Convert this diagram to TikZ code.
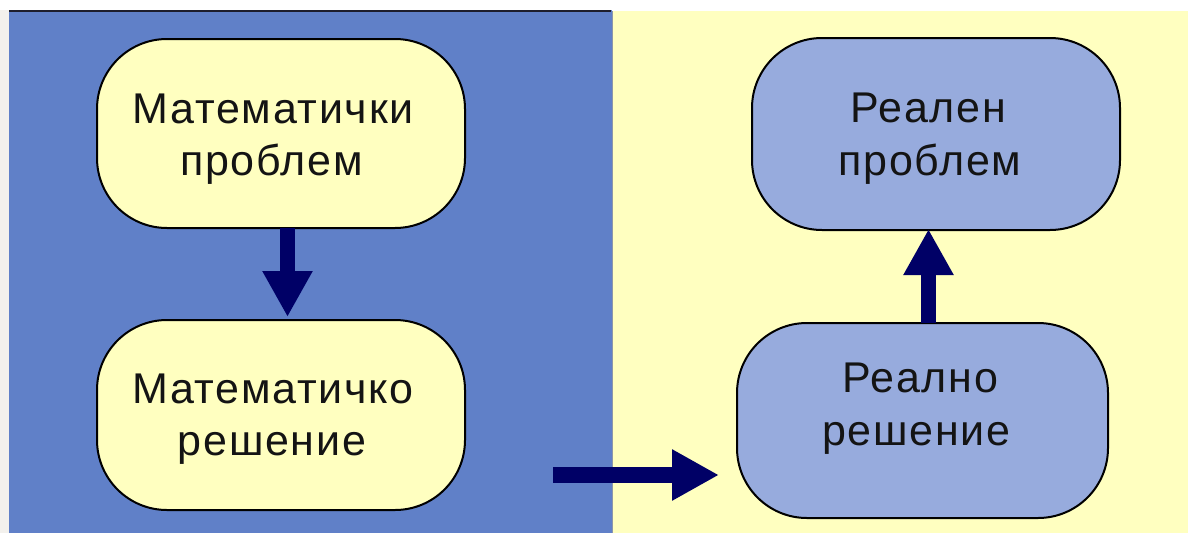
\documentclass[tikz,border=0pt]{standalone}
\usepackage{fontspec}
\setmainfont{Liberation Sans}[LetterSpace=4]
\usetikzlibrary{arrows.meta,calc}
\definecolor{panelblue}{RGB}{96,128,200}
\definecolor{panelyellow}{RGB}{255,255,192}
\definecolor{boxyellow}{RGB}{255,255,192}
\definecolor{boxblue}{RGB}{151,171,221}
\definecolor{arrownavy}{RGB}{0,0,102}
\definecolor{edgegray}{RGB}{243,241,237}
\tikzset{
  stepbox/.style={draw=black, line width=2pt, rounded corners=70pt, inner sep=0pt},
  lbl/.style={font=\fontsize{43}{52}\selectfont, inner sep=0pt, anchor=base, text={rgb,255:red,20;green,20;blue,20}},
  bigarrow/.style={draw=arrownavy, line width=15pt, line cap=butt,
     -{Triangle[width=47pt,length=46pt]}, arrownavy},
}
\begin{document}
\begin{tikzpicture}[x=1pt,y=-1pt]
\useasboundingbox (0,0) rectangle (1188,533);
% backgrounds
\fill[white] (0,0) rectangle (1188,533);
\fill[edgegray] (0,10) rectangle (9,533);
\fill[panelblue] (9,10) rectangle (612,533);
\fill[panelyellow] (612,11) rectangle (1188,533);
\draw[line width=2pt, color={rgb,255:red,30;green,30;blue,45}] (9,10.5) -- (611,10.5);
\draw[line width=0.8pt, color={rgb,255:red,140;green,150;blue,170}] (612,11) -- (612,533);

% boxes
\node[stepbox, fill=boxyellow, minimum width=368pt, minimum height=189pt] (mp) at (281,133.5) {};
\node[stepbox, fill=boxyellow, minimum width=368pt, minimum height=190pt] (ms) at (281,415) {};
\node[stepbox, fill=boxblue, minimum width=368pt, minimum height=192pt] (rp) at (936,134) {};
\node[stepbox, fill=boxblue, minimum width=371pt, minimum height=195pt] (rs) at (922.5,420.5) {};

% texts
\node[lbl] (t1) at (273,123) {Математички};
\node[lbl] (t2) at (271.5,175) {проблем};
\node[lbl] (t3) at (273,403) {Математичко};
\node[lbl] (t4) at (272,455) {решение};
\node[lbl] (t5) at (928,122) {Реален};
\node[lbl] (t6) at (930,175) {проблем};
\node[lbl] (t7) at (920,392) {Реално};
\node[lbl] (t8) at (916.5,445) {решение};

% arrows
\coordinate (dx) at (287.5,0);
\draw[bigarrow, shorten <=-1pt, shorten >=2pt] (dx |- mp.south) -- (dx |- ms.north);
\coordinate (ux) at (928.5,0);
\draw[bigarrow, shorten <=-1pt, shorten >=-2pt] (ux |- rs.north) -- (ux |- rp.south);
\coordinate (hs) at (553,475);
\draw[bigarrow, line width=16pt, -{Triangle[width=48pt,length=47pt]}, shorten >=17pt] (hs) -- (hs -| rs.west);
\end{tikzpicture}
\end{document}
